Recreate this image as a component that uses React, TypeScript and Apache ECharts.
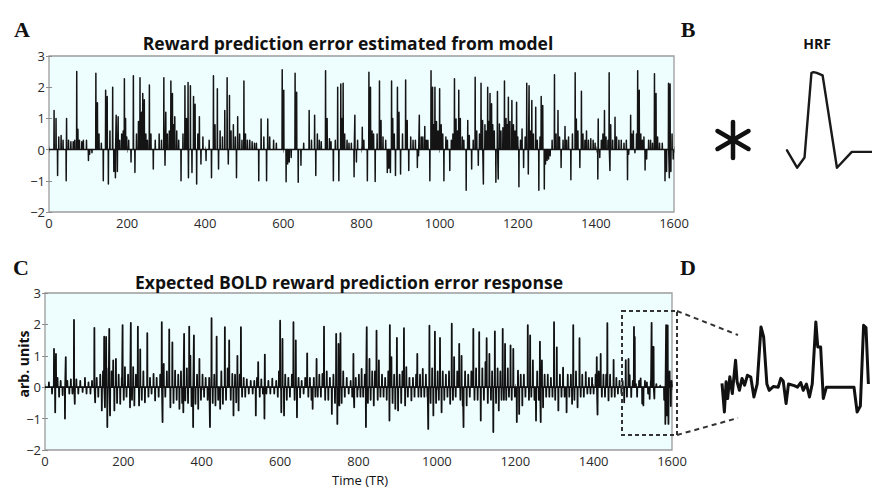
import React, { useEffect, useRef } from "react";
import * as echarts from "echarts";

// Panel A: reward prediction error (TR, value) spikes
const rpeSpikes: [number, number][] = [
  [13,1.25],[18,1.0],[22,-0.83],[25,0.4],[31,0.45],[36,0.3],[44,-1.0],[45,1.0],[50,0.3],[56,0.25],[62,0.25],[66,0.3],[71,2.5],[74,0.65],[78,0.3],[84,0.25],[88,0.3],[96,0.3],[101,-0.35],[104,-0.15],[110,-0.1],
  [120,2.45],[124,1.5],[128,0.5],[134,0.2],[139,-1.0],[145,1.9],[149,1.7],[152,-1.1],[156,0.6],[163,2.0],[166,-0.7],[170,-0.9],[172,1.1],[175,-0.7],[177,1.05],[181,0.3],[186,0.5],[190,0.6],[193,2.27],[196,1.0],[199,0.4],
  [204,0.3],[210,-0.4],[216,2.37],[220,-0.73],[224,0.5],[229,0.9],[233,2.3],[237,1.2],[240,1.8],[244,1.6],[248,0.5],[252,0.3],[257,2.07],[261,0.5],[267,-0.62],[272,0.3],[282,0.5],[288,0.3],[294,2.3],[297,-0.5],[299,1.2],
  [303,0.5],[308,0.6],[312,2.2],[316,1.8],[319,0.8],[322,1.05],[327,0.6],[332,0.3],[338,-1.0],[343,0.5],[348,2.05],[352,1.0],[356,2.15],[357,-0.9],[362,2.05],[366,-0.73],[370,1.7],[374,1.45],[378,-1.1],[381,0.5],[385,1.05],[389,-0.46],[394,0.4],
  [402,-0.35],[410,0.3],[416,-0.9],[421,2.37],[425,0.8],[431,1.95],[434,-0.62],[438,0.6],[444,0.4],[450,1.25],[456,2.3],[459,-0.46],[462,1.73],[466,0.6],[472,0.8],[477,0.4],[480,-0.9],[483,1.05],[488,0.5],[494,0.3],[499,2.2],
  [503,0.5],[508,0.3],[514,0.3],[520,0.25],[526,0.2],[531,0.2],[537,-1.0],[543,0.98],[550,0.4],[557,-1.0],[560,0.98],[565,0.4],[575,0.3],[582,0.2],[597,2.56],[601,1.9],
  [607,-1.03],[611,-0.46],[615,-0.4],[620,-0.25],[630,2.45],[634,1.84],[638,-1.05],[645,-0.5],[652,0.2],[666,1.25],[672,0.3],[680,1.1],[683,-0.83],[687,0.5],[692,0.3],[697,0.25],
  [708,2.53],[712,1.0],[718,0.35],[722,0.25],[728,-1.0],[733,0.3],[739,2.0],[742,-1.0],[747,2.1],[750,1.0],[753,2.13],[757,0.5],[763,0.3],[768,0.2],[774,0.2],[781,-0.87],[783,1.1],[787,-0.4],[790,0.3],
  [802,0.72],[806,0.3],[815,-1.0],[819,2.48],[823,2.0],[827,0.6],[831,0.5],[835,-1.02],[840,0.5],[846,2.2],[850,0.93],[855,0.4],[862,0.3],[866,-0.73],[870,-0.6],[874,-0.73],[877,2.2],[880,1.0],[884,0.5],[887,-0.83],[892,2.0],[896,1.2],
  [900,-0.78],[905,0.5],[913,2.23],[917,0.93],[921,-0.67],[926,0.4],[932,0.3],[938,0.3],[943,-0.57],[946,-0.2],[948,1.1],[953,0.4],[957,0.4],[962,0.74],[966,0.3],[970,0.3],[975,-1.0],[978,2.53],[982,2.0],[985,0.8],[988,2.0],[992,0.9],[996,0.6],
  [1000,1.95],[1004,0.8],[1008,0.5],[1011,-1.0],[1016,0.4],[1020,0.3],[1026,-0.67],[1030,0.3],[1034,0.5],[1038,2.27],[1042,0.98],[1046,0.6],[1049,1.9],[1053,1.0],[1058,0.4],[1062,0.3],[1068,-1.3],[1072,0.93],[1076,0.45],[1082,-0.62],[1086,0.3],[1091,2.32],[1095,0.6],[1099,-0.5],
  [1102,0.5],[1106,2.13],[1110,0.93],[1112,-1.1],[1116,0.8],[1119,0.6],[1123,2.0],[1126,0.9],[1129,1.8],[1133,1.47],[1136,0.8],[1140,0.6],[1144,-1.05],[1148,1.86],[1150,-0.94],[1153,0.82],[1157,0.6],[1162,0.7],[1166,2.2],[1170,1.0],[1173,0.8],[1176,1.68],[1180,0.9],[1185,1.57],[1189,0.8],[1193,0.6],[1197,1.52],
  [1200,0.4],[1203,-1.19],[1207,0.3],[1211,0.66],[1215,-0.57],[1219,0.4],[1223,2.13],[1227,-0.78],[1229,2.05],[1233,0.6],[1236,1.57],[1240,0.5],[1246,1.36],[1250,0.3],[1254,-1.3],[1257,0.4],[1260,1.7],[1264,1.41],[1268,-1.26],[1271,-0.46],[1275,-0.35],[1279,-0.3],[1283,-0.2],[1288,0.3],[1294,2.4],[1298,0.5],
  [1303,1.25],[1307,0.4],[1311,-0.57],[1316,0.3],[1321,0.74],[1325,0.3],[1330,0.4],[1336,-0.97],[1340,0.5],[1347,2.46],[1350,0.98],[1354,0.6],[1359,-0.57],[1363,1.87],[1367,0.5],[1372,0.3],[1376,0.6],[1381,0.3],[1387,0.35],[1393,0.3],[1398,0.2],
  [1405,-0.94],[1406,0.98],[1410,-0.25],[1414,0.3],[1418,0.5],[1422,1.25],[1426,0.4],[1431,0.3],[1434,2.46],[1436,-0.67],[1438,0.8],[1443,0.3],[1449,1.04],[1453,0.4],[1459,0.3],[1465,0.3],[1472,0.2],[1478,0.3],[1481,-0.97],[1484,-0.15],[1489,1.1],[1492,0.5],[1496,0.6],
  [1500,-0.1],[1504,0.5],[1507,2.53],[1511,1.9],[1515,0.5],[1519,0.3],[1523,0.4],[1526,-0.65],[1530,-0.3],[1535,0.3],[1540,0.3],[1545,0.2],[1550,2.43],[1554,1.8],[1558,0.4],[1563,0.2],[1570,0.2],[1577,-1.0],[1581,-0.7],[1586,2.13],[1588,-0.9],[1590,2.1],[1592,-0.7],[1595,0.5],[1598,-0.3]
];

// Panel C: expected BOLD response (TR, value)
const boldSpikes: [number, number][] = [
  [10,0.15],[18,-0.2],[23,1.22],[26,-0.8],[28,1.06],[32,0.3],[36,-0.3],[40,0.2],[45,-0.25],[51,-1.0],[53,0.96],[57,0.2],[62,-0.2],[66,0.25],[70,-0.2],[74,2.14],[76,-0.53],[80,0.25],[85,-0.2],[90,0.2],[96,-0.15],
  [102,0.3],[106,-0.2],[111,0.15],[116,-0.2],[120,0.2],[126,1.89],[128,-0.48],[132,0.3],[136,-0.3],[141,0.4],[145,-0.74],[148,0.5],[151,1.61],[153,-0.64],[156,1.6],[159,-1.27],[162,0.6],[164,1.86],[166,-0.9],[170,0.5],[174,0.85],[177,-0.74],[181,0.9],[184,-0.5],[188,0.4],[192,-0.53],[196,0.3],[198,1.98],
  [201,-0.4],[204,0.64],[208,-0.3],[212,0.4],[217,-0.64],[219,2.05],[222,-0.4],[225,0.64],[228,-0.58],[232,0.4],[237,1.93],[240,-0.58],[243,1.2],[247,-0.4],[251,0.5],[255,-0.48],[261,1.72],[264,-0.3],[268,0.3],[272,-0.2],[277,0.42],[281,-0.42],[285,0.3],[290,-0.3],[294,0.4],[298,2.07],
  [300,-1.11],[303,0.74],[307,-0.3],[311,0.5],[317,1.84],[320,-0.64],[325,1.43],[328,-0.5],[332,0.53],[336,-0.4],[340,0.4],[343,-0.69],[347,0.5],[350,-0.5],[353,-0.8],[355,1.7],[358,-0.42],[362,0.6],[365,-0.5],[368,1.93],[371,1.0],[374,-0.6],[378,-1.27],[380,1.65],[384,-0.53],[388,0.4],[391,-0.69],[394,0.9],[398,-0.4],
  [402,0.4],[406,-0.3],[410,0.3],[415,-0.4],[419,0.3],[421,-1.27],[425,2.2],[428,-0.5],[432,0.4],[435,-0.58],[438,1.61],[442,-0.4],[447,-0.69],[450,0.5],[454,-0.53],[459,1.91],[462,-0.4],[466,0.6],[470,1.49],[474,-0.4],[478,0.42],[481,-0.9],[485,0.4],[488,-0.48],[491,1.0],[494,-0.74],[497,0.4],
  [500,1.91],[503,-0.3],[507,0.3],[511,-0.3],[515,0.25],[520,-0.2],[525,0.2],[530,-0.2],[534,0.2],[538,-0.9],[541,0.3],[544,0.8],[548,-0.3],[552,0.25],[556,-0.2],[560,-1.0],[561,1.04],[565,-0.2],[570,0.2],[575,-0.2],[580,0.27],[585,-0.2],[590,0.2],[594,-0.3],[597,0.5],
  [600,2.12],[603,-0.8],[606,1.54],[610,-0.9],[613,0.4],[617,-0.4],[621,0.3],[625,-0.3],[630,0.4],[634,2.07],[637,-0.4],[640,1.49],[643,-0.96],[647,0.3],[651,-0.32],[655,0.2],[660,-0.2],[664,0.3],[669,1.08],[672,-0.3],[676,0.3],[680,-0.4],[683,-0.69],[686,0.3],[690,-0.3],[693,0.9],[696,-0.3],
  [700,0.4],[704,-0.3],[708,0.42],[712,1.93],[715,-0.4],[719,0.5],[723,-0.4],[727,0.3],[732,-0.85],[736,0.4],[740,-0.5],[743,1.7],[746,-1.17],[749,1.38],[751,-0.58],[754,1.72],[757,-0.5],[761,0.5],[765,-0.3],[770,0.3],[775,-0.2],[780,0.2],[784,-0.3],[787,1.06],[789,-0.64],[793,0.3],[797,-0.3],
  [801,0.4],[805,-0.3],[808,0.58],[812,-0.3],[816,0.4],[819,-1.27],[821,1.91],[824,-0.5],[828,0.9],[831,-0.4],[835,0.5],[839,-0.58],[842,0.5],[846,1.8],[849,-0.4],[852,0.85],[856,-0.3],[860,0.4],[864,-0.3],[868,0.3],[872,-0.4],[876,0.5],[879,-1.06],[880,1.98],[884,0.96],[887,-0.5],[891,0.4],[894,-0.69],[898,1.57],
  [901,-0.74],[905,0.4],[909,-0.5],[912,0.5],[916,1.88],[919,-0.58],[922,0.64],[926,-0.3],[930,0.3],[935,-0.42],[939,0.3],[943,-0.3],[947,0.4],[950,1.06],[953,-0.3],[957,0.4],[960,-0.3],[964,0.58],[968,-0.3],[972,0.4],[976,-0.3],[978,-1.33],[981,1.96],[984,-0.5],[988,0.6],[991,-0.9],[995,1.77],[998,-0.5],
  [1002,0.5],[1005,-0.4],[1008,1.57],[1012,-0.8],[1015,0.5],[1019,-0.4],[1023,0.4],[1027,-0.3],[1031,0.5],[1034,-0.53],[1038,2.02],[1041,-0.4],[1044,0.96],[1048,-0.3],[1052,0.5],[1057,1.38],[1060,-0.4],[1063,1.0],[1066,-0.58],[1068,-1.27],[1072,0.5],[1076,-0.58],[1080,0.4],[1084,-0.3],[1088,0.5],[1093,1.86],[1096,-0.4],
  [1100,0.6],[1104,-0.4],[1108,1.75],[1112,-1.06],[1116,0.6],[1120,-0.4],[1124,0.8],[1127,1.56],[1130,-0.5],[1134,1.06],[1138,-0.4],[1141,0.5],[1144,-1.43],[1148,1.78],[1151,-0.5],[1155,0.6],[1158,-0.74],[1162,0.5],[1165,-0.4],[1168,1.86],[1171,-0.4],[1174,1.38],[1177,-0.4],[1181,0.6],[1184,-0.3],[1188,1.33],[1191,-0.4],[1195,1.22],[1199,-0.3],
  [1204,-1.11],[1207,0.53],[1210,-0.85],[1214,0.4],[1218,-0.58],[1222,0.4],[1226,-0.3],[1232,1.98],[1235,-0.4],[1238,1.65],[1241,-0.3],[1245,0.85],[1249,-0.4],[1253,-1.06],[1256,0.5],[1260,-0.4],[1263,1.45],[1265,-1.11],[1268,0.85],[1271,-0.64],[1275,0.4],[1279,-0.3],[1283,0.4],[1287,-0.3],[1291,0.3],[1295,-0.3],[1299,2.07],
  [1302,-0.4],[1306,1.27],[1310,-0.74],[1314,0.4],[1318,-0.3],[1322,0.62],[1326,-0.3],[1331,-0.8],[1334,0.4],[1338,-0.3],[1342,0.4],[1345,-0.53],[1348,1.98],[1351,-0.4],[1355,0.5],[1359,-0.64],[1364,1.56],[1367,-0.3],[1371,0.4],[1375,-0.3],[1380,0.48],[1384,-0.2],[1388,0.3],[1392,-0.2],[1396,0.3],
  [1400,-0.2],[1405,0.4],[1408,0.96],[1410,-0.87],[1413,0.5],[1418,1.06],[1421,-0.3],[1425,0.4],[1429,-0.3],[1432,0.4],[1435,2.04],[1438,-0.42],[1442,0.4],[1446,-0.3],[1451,0.87],[1454,-0.3],[1458,0.3],[1462,-0.2],[1466,0.2],[1471,-0.2],[1474,0.2],[1478,-0.48],[1482,0.86],[1485,-0.3],[1489,0.9],[1492,0.38],[1496,-0.31],
  [1500,0.2],[1503,1.92],[1505,1.6],[1508,0.1],[1511,-0.3],[1516,0.2],[1520,0.28],[1524,-0.52],[1527,-0.58],[1531,0.2],[1536,0.15],[1539,-0.2],[1543,-0.37],[1546,0.2],[1548,2.05],[1551,1.28],[1553,1.28],[1555,-0.36],[1560,0.1],[1570,0.05],[1580,-0.4],[1583,-1.17],[1585,1.98],[1587,-0.9],[1589,1.97],[1591,-1.17],[1594,0.5],[1597,-0.6],[1599,0.2]
];

// Panel B: haemodynamic response function
const hrfTime = [0, 1.9, 3.3, 4.6, 5.0, 5.6, 6.7, 9.4, 12.2, 16];
const hrfValue = [0.02, -0.2, -0.07, 1.0, 1.01, 1.0, 0.97, -0.2, 0, 0];

// Panel D: zoomed segment of panel C
const zoomTR = [1471,1473,1474.4,1475.7,1477.5,1479.6,1482.3,1483.6,1485.5,1487.7,1489.8,1492.2,1495,1497.6,1500.3,1503.5,1505.7,1508.4,1510.3,1513.7,1517.8,1520,1522,1524.4,1526.4,1531.2,1533.9,1536.6,1538.7,1541.4,1543.9,1546.2,1549.2,1550.8,1553.2,1555.4,1558,1581,1583.6,1586.3,1589,1591,1593];
const zoomValue = [0.12,-0.79,0.17,-0.36,0.33,-0.2,0.86,0.17,-0.1,0.28,0.06,0.38,0.32,-0.31,0.1,1.92,1.6,0.1,-0.1,0.02,0,0.28,0.2,-0.52,0.1,0.05,0,0.15,-0.1,0.1,-0.31,0.1,2.08,1.28,1.28,-0.36,0,0,-0.79,-0.6,1.97,1.9,0.1];

const timeTicks = [0, 200, 400, 600, 800, 1000, 1200, 1400, 1600];
const valueTicks = [-2, -1, 0, 1, 2, 3];

function spikeLine(spikes: [number, number][]) {
  const out: number[][] = [[timeTicks[0], 0]];
  for (const [t, v] of spikes) {
    out.push([t - 0.45, 0], [t, v], [t + 0.45, 0]);
  }
  out.push([timeTicks[timeTicks.length - 1], 0]);
  return out;
}

export default function App() {
  const ref = useRef<HTMLDivElement>(null);
  useEffect(() => {
    const chart = echarts.init(ref.current!, null, { renderer: "svg" });
    const sans = "'Open Sans', 'DejaVu Sans', sans-serif";
    const serif = "'Liberation Serif', 'DejaVu Serif', serif";
    const frame = (left: number, top: number, width: number, height: number) => ({
      left, top, width, height, show: true, backgroundColor: "#eefefe", borderColor: "#9c9c9c", borderWidth: 1.3,
    });
    const hiddenGrid = (left: number, top: number, width: number, height: number) => ({ left, top, width, height, show: false });
    const tick = { show: true, inside: true, length: 3, lineStyle: { color: "#8c8c8c", width: 1 } };
    const labelStyle = { fontSize: 13, fontFamily: sans, color: "#2a2a2a" };
    const xAx = (gridIndex: number, position: string, labels: boolean) => ({
      type: "value", gridIndex, position, min: timeTicks[0], max: timeTicks[timeTicks.length - 1], interval: timeTicks[1] - timeTicks[0],
      axisLine: { show: false }, axisTick: tick, splitLine: { show: false },
      axisLabel: { show: labels, margin: 4, ...labelStyle, formatter: (v: number) => String(v) },
    });
    const yAx = (gridIndex: number, position: string, labels: boolean) => ({
      type: "value", gridIndex, position, min: valueTicks[0], max: valueTicks[valueTicks.length - 1], interval: 1,
      axisLine: { show: false }, axisTick: tick, splitLine: { show: false },
      axisLabel: { show: labels, margin: 4, ...labelStyle, formatter: (v: number) => String(v).replace("-", "\u2212") },
    });
    const text = (x: number, y: number, t: string, font: string, extra: any = {}) => ({
      type: "text", x, y, z: 100, ...extra,
      style: { text: t, font, fill: "#111", align: "center", verticalAlign: "middle", textAlign: "center", textVerticalAlign: "middle" },
    });
    const line = (x1: number, y1: number, x2: number, y2: number, style: any) => ({
      type: "line", z: 100, shape: { x1, y1, x2, y2 }, style,
    });
    const dash = { stroke: "#333", lineWidth: 2, lineDash: [4, 3] };
    const star = { stroke: "#111", lineWidth: 4.5, lineCap: "round" };

    chart.setOption({
      animation: false,
      grid: [
        frame(49, 56, 625, 156),
        frame(45, 293, 627, 157),
        hiddenGrid(787, 65, 86.4, 118.5),
        hiddenGrid(722, 293, 155, 157),
      ],
      xAxis: [
        xAx(0, "bottom", true), xAx(0, "top", false),
        xAx(1, "bottom", true), xAx(1, "top", false),
        { type: "value", gridIndex: 2, min: 0, max: 16, show: false },
        { type: "value", gridIndex: 3, min: 1471, max: 1596, show: false },
      ],
      yAxis: [
        yAx(0, "left", true), yAx(0, "right", false),
        yAx(1, "left", true), yAx(1, "right", false),
        { type: "value", gridIndex: 2, min: -0.4, max: 1.1, show: false },
        { type: "value", gridIndex: 3, min: -2, max: 3, show: false },
      ],
      series: [
        { type: "line", xAxisIndex: 0, yAxisIndex: 0, data: spikeLine(rpeSpikes), symbol: "none", silent: true,
          lineStyle: { color: "#141414", width: 1.5, join: "round" } },
        { type: "line", xAxisIndex: 2, yAxisIndex: 2, data: spikeLine(boldSpikes), symbol: "none", silent: true,
          lineStyle: { color: "#111", width: 1.8, join: "round" } },
        { type: "line", xAxisIndex: 4, yAxisIndex: 4, data: hrfTime.map((t, i) => [t, hrfValue[i]]), symbol: "none", silent: true,
          lineStyle: { color: "#1a1a1a", width: 2.4, join: "round", cap: "round" } },
        { type: "line", xAxisIndex: 5, yAxisIndex: 5, data: zoomTR.map((t, i) => [t, zoomValue[i]]), symbol: "none", silent: true,
          lineStyle: { color: "#111", width: 3, join: "round" } },
      ],
      graphic: [
        text(22, 29, "A", `bold 22px ${serif}`),
        text(688, 29, "B", `bold 22px ${serif}`),
        text(21, 267, "C", `bold 22px ${serif}`),
        text(688, 267, "D", `bold 22px ${serif}`),
        text(348, 43, "Reward prediction error estimated from model", `bold 17.5px ${sans}`),
        text(349, 282, "Expected BOLD reward prediction error response", `bold 17.5px ${sans}`),
        text(817, 43, "HRF", `bold 14px ${sans}`),
        text(360, 480, "Time (TR)", `13px ${sans}`),
        text(23, 364, "arb. units", `bold 14px ${sans}`, { rotation: Math.PI / 2 }),
        line(733, 122, 733, 158, star),
        line(717.5, 131, 748.5, 149, star),
        line(717.5, 149, 748.5, 131, star),
        { type: "rect", z: 100, shape: { x: 622, y: 311, width: 55, height: 124 }, style: { fill: "none", ...dash } },
        line(677, 311, 738, 335, { stroke: "#333", lineWidth: 2, lineDash: [5, 4] }),
        line(677, 435, 738, 418, { stroke: "#333", lineWidth: 2, lineDash: [5, 4] }),
      ],
    });
    return () => chart.dispose();
  }, []);
  return <div ref={ref} style={{ position: "fixed", left: 0, top: 0, width: 872, height: 488, background: "#fff" }} />;
}
